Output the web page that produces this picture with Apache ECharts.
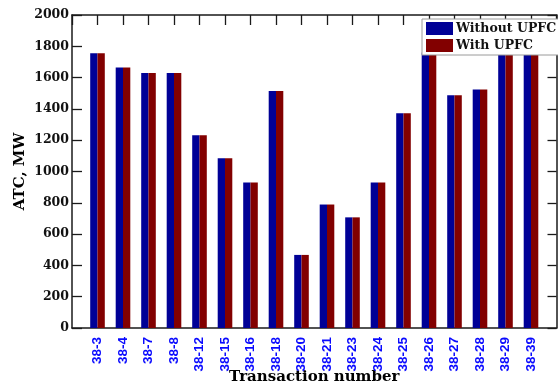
<!DOCTYPE html>
<html>
<head>
<meta charset="utf-8">
<script src="https://cdn.jsdelivr.net/npm/echarts@6/dist/echarts.min.js"></script>
<style>
  html, body { margin: 0; padding: 0; background: #fff; }
  #chart { width: 558px; height: 390px; }
</style>
</head>
<body>
<div id="chart"></div>
<script>
// Transactions along the x axis (placed at positions 1..18)
const transactions = ['38-3', '38-4', '38-7', '38-8', '38-12', '38-15', '38-16', '38-18',
  '38-20', '38-21', '38-23', '38-24', '38-25', '38-26', '38-27', '38-28', '38-29', '38-39'];

// Available transfer capability, MW
const atcWithoutUpfc = [1755, 1665, 1630, 1630, 1232, 1084, 930, 1514,
  467, 789, 707, 930, 1373, 1760, 1488, 1524, 1760, 1758];
const atcWithUpfc = [1755, 1665, 1630, 1630, 1232, 1084, 930, 1514,
  467, 789, 707, 930, 1373, 1760, 1488, 1524, 1760, 1758];

const yTicks = [0, 200, 400, 600, 800, 1000, 1200, 1400, 1600, 1800, 2000];

const serifBold = '"DejaVu Serif", serif';
const frameColor = '#1a1a1a';

const toPoints = vals => vals.map((v, i) => [i + 1, v]);

const chart = echarts.init(document.getElementById('chart'), null, { renderer: 'canvas' });

chart.setOption({
  animation: false,
  backgroundColor: '#ffffff',
  grid: { left: 72, top: 15, right: 1.5, bottom: 58, containLabel: false },
  legend: {
    orient: 'vertical',
    left: 422,
    top: 19,
    padding: [3, 12, 3, 4],
    itemGap: 4,
    itemWidth: 27,
    itemHeight: 13,
    icon: 'rect',
    borderColor: '#9a9a9a',
    borderWidth: 1,
    backgroundColor: '#ffffff',
    textStyle: { fontFamily: serifBold, fontWeight: 'bold', fontSize: 12.5, color: '#111', padding: [0, 0, 0, -2] },
    data: ['Without UPFC', 'With UPFC']
  },
  xAxis: [
    {
      type: 'value',
      position: 'bottom',
      min: 0,
      max: transactions.length + 1,
      interval: 1,
      splitLine: { show: false },
      axisLine: { show: true, lineStyle: { color: frameColor, width: 1.5 } },
      axisTick: { show: false },
      axisLabel: {
        rotate: 90,
        margin: 9,
        color: '#0a0aff',
        fontFamily: '"Liberation Sans", Arial, sans-serif',
        fontWeight: 'bold',
        fontSize: 13.5,
        formatter: v => transactions[v - 1] || ''
      },
      name: 'Transaction number',
      nameLocation: 'middle',
      nameGap: 42,
      nameMoveOverlap: false,
      nameTextStyle: { fontFamily: serifBold, fontWeight: 'bold', fontSize: 15, color: '#000', verticalAlign: 'top' }
    },
    {
      type: 'value',
      position: 'top',
      min: 0,
      max: transactions.length + 1,
      interval: 1,
      splitLine: { show: false },
      axisLine: { show: true, onZero: false, lineStyle: { color: frameColor, width: 1.5 } },
      axisTick: { show: true, inside: true, length: 10, lineStyle: { color: frameColor, width: 1.3 } },
      axisLabel: { show: false }
    }
  ],
  yAxis: [
    {
      type: 'value',
      position: 'left',
      min: yTicks[0],
      max: yTicks[yTicks.length - 1],
      interval: 200,
      splitLine: { show: false },
      axisLine: { show: true, onZero: false, lineStyle: { color: frameColor, width: 1.5 } },
      axisTick: { show: true, inside: true, length: 10, lineStyle: { color: frameColor, width: 1.3 } },
      axisLabel: {
        margin: 3,
        color: '#111',
        fontFamily: serifBold,
        fontWeight: 'bold',
        fontSize: 12.5,
        formatter: v => String(v)
      },
      name: 'ATC, MW',
      nameLocation: 'middle',
      nameGap: 44,
      nameMoveOverlap: false,
      nameTextStyle: { fontFamily: serifBold, fontWeight: 'bold', fontSize: 15, color: '#000' }
    },
    {
      type: 'value',
      position: 'right',
      min: yTicks[0],
      max: yTicks[yTicks.length - 1],
      interval: 200,
      splitLine: { show: false },
      axisLine: { show: true, onZero: false, lineStyle: { color: frameColor, width: 1.5 } },
      axisTick: { show: true, inside: true, length: 9, lineStyle: { color: frameColor, width: 1.3 } },
      axisLabel: { show: false }
    }
  ],
  series: [
    {
      name: 'Without UPFC',
      type: 'bar',
      xAxisIndex: 0,
      yAxisIndex: 0,
      barWidth: 7.3,
      barGap: '0%',
      itemStyle: { color: '#000096' },
      data: toPoints(atcWithoutUpfc)
    },
    {
      name: 'With UPFC',
      type: 'bar',
      xAxisIndex: 0,
      yAxisIndex: 0,
      barWidth: 7.3,
      barGap: '0%',
      itemStyle: { color: '#820000' },
      data: toPoints(atcWithUpfc)
    }
  ]
});
</script>
</body>
</html>
